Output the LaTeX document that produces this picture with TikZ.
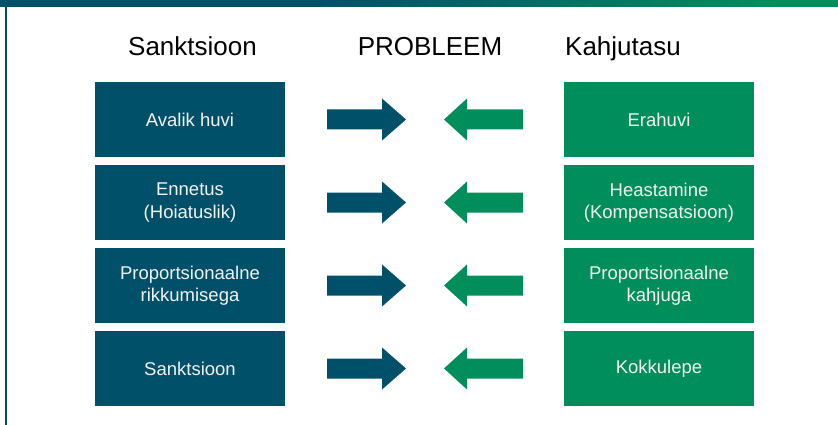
\documentclass[tikz,border=0pt]{standalone}
\usepackage{fontspec}
\setmainfont{Liberation Sans}
\usetikzlibrary{positioning}
\definecolor{sankteal}{HTML}{00506A}
\definecolor{kahjgreen}{HTML}{008F5C}
\definecolor{boxtext}{HTML}{F2F2F2}

\begin{document}
\begin{tikzpicture}[x=1pt, y=-1pt,
  head/.style={anchor=base, inner sep=0, font=\fontsize{26}{30}\selectfont},
  sbox/.style={fill=sankteal, text=boxtext, minimum width=190pt, minimum height=75pt,
    inner sep=0, align=center, font=\fontsize{18.5}{22.5}\selectfont},
  kbox/.style={sbox, fill=kahjgreen}]
\useasboundingbox (0,0) rectangle (838,425);
% top bar and left rule
\fill[sankteal] (0,0) rectangle (321,7);
\shade[left color=sankteal, right color=kahjgreen] (320,0) rectangle (781,7);
\fill[kahjgreen] (780,0) rectangle (838,7);
\fill[sankteal] (5,0) rectangle (7,425);
% headings
\node[head] (hs) at (192.5,56) {Sanktsioon};
\node[head] (hp) at (430,56) {PROBLEEM};
\node[head] (hk) at (623,56) {Kahjutasu};
% boxes
\foreach \y/\n/\s/\k in {119.5/1/{Avalik huvi}/{Erahuvi},
    202.5/2/{Ennetus\\(Hoiatuslik)}/{Heastamine\\(Kompensatsioon)},
    285.5/3/{Proportsionaalne\\rikkumisega}/{Proportsionaalne\\kahjuga},
    368.5/4/{Sanktsioon}/{Kokkulepe}} {
 \node[sbox] (s\n) at (190,\y) {\s};
 \node[kbox] (k\n) at (659,\y) {\k};
 \fill[sankteal] (327,\y-10) -- (382,\y-10) -- (382,\y-21) -- (406,\y)
   -- (382,\y+21) -- (382,\y+10) -- (327,\y+10) -- cycle;
 \fill[kahjgreen] (523,\y-10) -- (467,\y-10) -- (467,\y-21) -- (444,\y)
   -- (467,\y+21) -- (467,\y+10) -- (523,\y+10) -- cycle;
}
\end{tikzpicture}
\end{document}
